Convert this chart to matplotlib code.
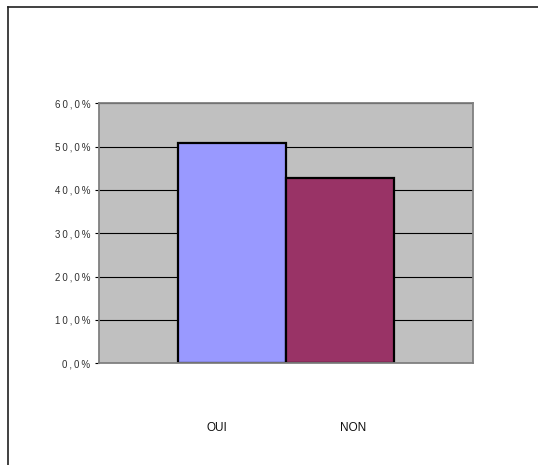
import matplotlib.pyplot as plt
from matplotlib.lines import Line2D
from matplotlib.ticker import FuncFormatter

answers = ['OUI', 'NON']
shares = [50.9, 42.8]
bar_colors = ['#9999FF', '#993366']
yticks = [0, 10, 20, 30, 40, 50, 60]

plt.rcParams['font.family'] = ['Liberation Sans', 'DejaVu Sans']


def pct_label(v, pos):
    # spaced-out digits, French decimal comma
    s = ('%.1f%%' % v).replace('.', ',')
    return '\u2009'.join(s)


fig = plt.figure(figsize=(5.38, 4.65), dpi=100)
fig.patch.set_facecolor('white')

# frame lines along the top and left edge of the sheet
fig.add_artist(Line2D([7.5 / 538, 1], [1 - 7.5 / 465, 1 - 7.5 / 465],
                      transform=fig.transFigure, color='#202020', lw=1.2))
fig.add_artist(Line2D([7.5 / 538, 7.5 / 538], [0, 1 - 7.5 / 465],
                      transform=fig.transFigure, color='#202020', lw=1.2))

ax = fig.add_axes([98.5 / 538, (465 - 363.3) / 465, 374.5 / 538, 260 / 465])
ax.set_facecolor('#C0C0C0')

width = 0.2884
centers = [0.5 - width / 2, 0.5 + width / 2]
ax.bar(centers, shares, width=width, color=bar_colors,
       edgecolor='black', linewidth=1.6, zorder=3)

ax.set_xlim(0, 1)
ax.set_ylim(0, 60)
ax.set_yticks(yticks)
ax.yaxis.set_major_formatter(FuncFormatter(pct_label))
ax.set_xticks([])
ax.grid(axis='y', color='black', linewidth=0.8, zorder=1)
ax.set_axisbelow(True)
ax.tick_params(axis='y', length=3, width=0.8, color='black', pad=3,
               labelsize=7, labelcolor='#303030')

for side in ['left', 'right', 'top', 'bottom']:
    ax.spines[side].set_color('#808080')
    ax.spines[side].set_linewidth(1.3)
    ax.spines[side].set_zorder(4)

# category names under the plot
label_x = [217, 353]
for name, x in zip(answers, label_x):
    fig.text(x / 538, 1 - 428 / 465, name, ha='center', va='center',
             fontsize=8.5, color='#101010')

fig.savefig('out.png', dpi=100)
